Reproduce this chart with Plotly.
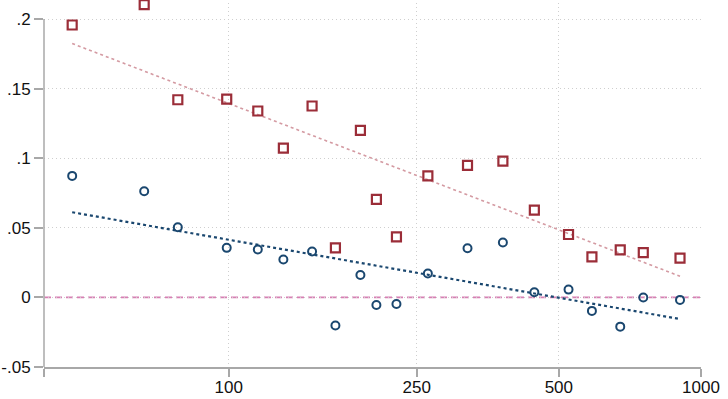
import numpy as np
import plotly.graph_objects as go

x_vals = [46.6, 66.2, 78.0, 99.0, 115.2, 130.5, 150.1, 168.2, 190.0, 205.4,
          226.5, 264.0, 320.3, 380.6, 443.7, 524.2, 587.5, 674.5, 754.7, 902.7]
red_vals = [0.1957, 0.2103, 0.142, 0.1425, 0.1339, 0.1072, 0.1375, 0.0356, 0.120, 0.0704,
            0.0435, 0.0873, 0.0948, 0.0979, 0.0627, 0.0452, 0.0291, 0.0341, 0.0322, 0.0282]
blue_vals = [0.0873, 0.0763, 0.0504, 0.0356, 0.0344, 0.0272, 0.033, -0.0202, 0.0161, -0.0054,
             -0.0047, 0.0172, 0.0353, 0.0394, 0.0037, 0.0056, -0.0097, -0.021, -0.0001, -0.0018]

x_ticks = [100, 250, 500, 1000]
x_tick_labels = ["100", "250", "500", "1000"]
y_ticks = [-0.05, 0, 0.05, 0.1, 0.15, 0.2]
y_tick_labels = ["-.05", "0", ".05", ".1", ".15", ".2"]

RED = "#9b2d38"
BLUE = "#1a476f"
RED_FIT = "#d49aa2"

lx = np.log10(np.array(x_vals))
fit_x = np.array([min(x_vals), max(x_vals)])

def fit(yv):
    b, a = np.polyfit(lx, np.array(yv), 1)
    return a + b * np.log10(fit_x)

xmin_log = 1.6087
xmin = 10 ** xmin_log

fig = go.Figure()
fig.add_hline(y=0, line=dict(color="#d77fb3", width=1.8, dash="7px,4px"), layer="below")
fig.add_trace(go.Scatter(x=fit_x, y=fit(red_vals), mode="lines",
                         line=dict(color=RED_FIT, width=1.6, dash="dot"), hoverinfo="skip"))
fig.add_trace(go.Scatter(x=fit_x, y=fit(blue_vals), mode="lines",
                         line=dict(color=BLUE, width=2.2, dash="dot"), hoverinfo="skip"))
fig.add_trace(go.Scatter(x=x_vals, y=red_vals, mode="markers", cliponaxis=False,
                         marker=dict(symbol="square-open", size=9, color=RED, line=dict(width=2.2, color=RED))))
fig.add_trace(go.Scatter(x=x_vals, y=blue_vals, mode="markers", cliponaxis=False,
                         marker=dict(symbol="circle-open", size=8, color=BLUE, line=dict(width=2, color=BLUE))))

# y-axis line from -.05 to .2
fig.add_shape(type="line", xref="paper", yref="y", x0=0, x1=0, y0=-0.05, y1=0.2,
              line=dict(color="#a8a8a8", width=1.5))

fig.update_layout(
    width=728, height=399,
    margin=dict(l=44, r=27, t=3, b=32),
    paper_bgcolor="white", plot_bgcolor="white",
    showlegend=False,
    font=dict(family="Liberation Sans, Arial, sans-serif", size=17, color="#111111"),
)
fig.update_xaxes(type="log", range=[xmin_log, 3], automargin=False,
                 tickvals=[xmin] + x_ticks, ticktext=[""] + x_tick_labels,
                 showline=True, linecolor="#a8a8a8", linewidth=1.5,
                 ticks="outside", ticklen=8, tickcolor="#a8a8a8", tickwidth=1.5,
                 ticklabelstandoff=-4,
                 showgrid=True, gridcolor="#cfcfcf", griddash="1px,3px", gridwidth=1,
                 zeroline=False, tickfont=dict(size=17))
fig.update_yaxes(range=[-0.05, 0.2115], automargin=False, tickvals=y_ticks, ticktext=y_tick_labels,
                 showline=False, ticks="outside", ticklen=9, tickcolor="#a8a8a8", tickwidth=1.5,
                 showgrid=True, gridcolor="#cfcfcf", griddash="1px,3px", gridwidth=1,
                 zeroline=False, tickfont=dict(size=17))

fig.write_html("out.html", config={"displayModeBar": False},
               post_script="document.body.style.margin='0';document.body.style.overflow='hidden';")
